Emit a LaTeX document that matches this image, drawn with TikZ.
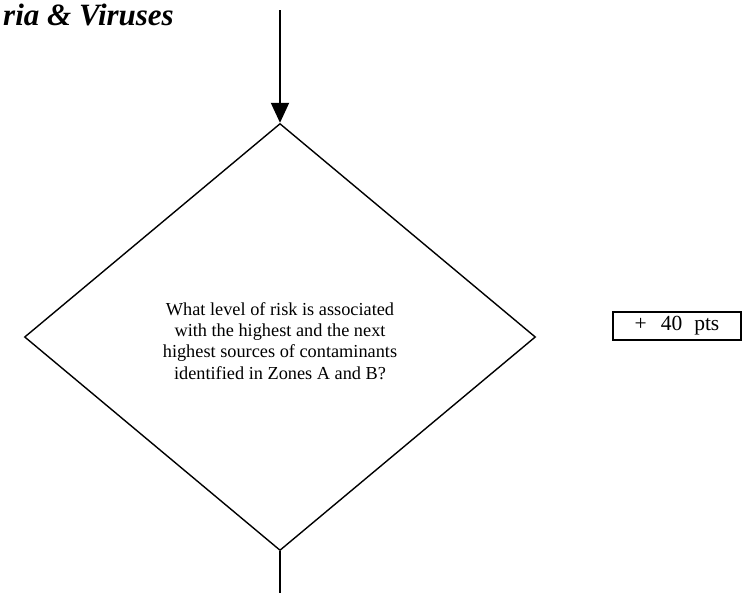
\documentclass[tikz,border=0pt]{standalone}
\usepackage{fontspec}
\setmainfont{Liberation Serif}
\usetikzlibrary{shapes.geometric,arrows.meta}
\tikzset{
  decision/.style={draw, line width=1.4pt, shape=diamond, minimum width=511pt, minimum height=427pt, inner sep=0pt},
  qtext/.style={align=center, inner sep=0pt, font=\fontsize{18.3}{21.2}\selectfont},
  ptsbox/.style={draw, line width=2.7pt, minimum width=128pt, minimum height=28pt, inner sep=0pt, font=\fontsize{21.5}{25}\selectfont},
  titletext/.style={font=\fontsize{31}{36}\selectfont\bfseries\itshape, inner sep=0pt},
  flowarrow/.style={line width=2pt, -{Triangle[length=20pt, width=18pt]}},
  flowline/.style={line width=1.6pt}
}
\begin{document}
\begin{tikzpicture}[x=1pt,y=-1pt]
\useasboundingbox (0,0) rectangle (750,597);
\node[titletext, anchor=base east] (title) at (174,25) {ria \& Viruses};
\node[decision] (q) at (280,337) {};
\node[qtext] (qt) at (280,341) {What level of risk is associated\\with the highest and the next\\highest sources of contaminants\\identified in Zones A and B?};
\node[ptsbox] (pts) at (677,326) {+\hspace{14pt}40\hspace{12pt}pts};
\coordinate (in) at (280,10);
\coordinate (out) at (280,593);
\draw[flowarrow] (in) -- (q.north);
\draw[flowline] (q.south) -- (out);
\end{tikzpicture}
\end{document}
